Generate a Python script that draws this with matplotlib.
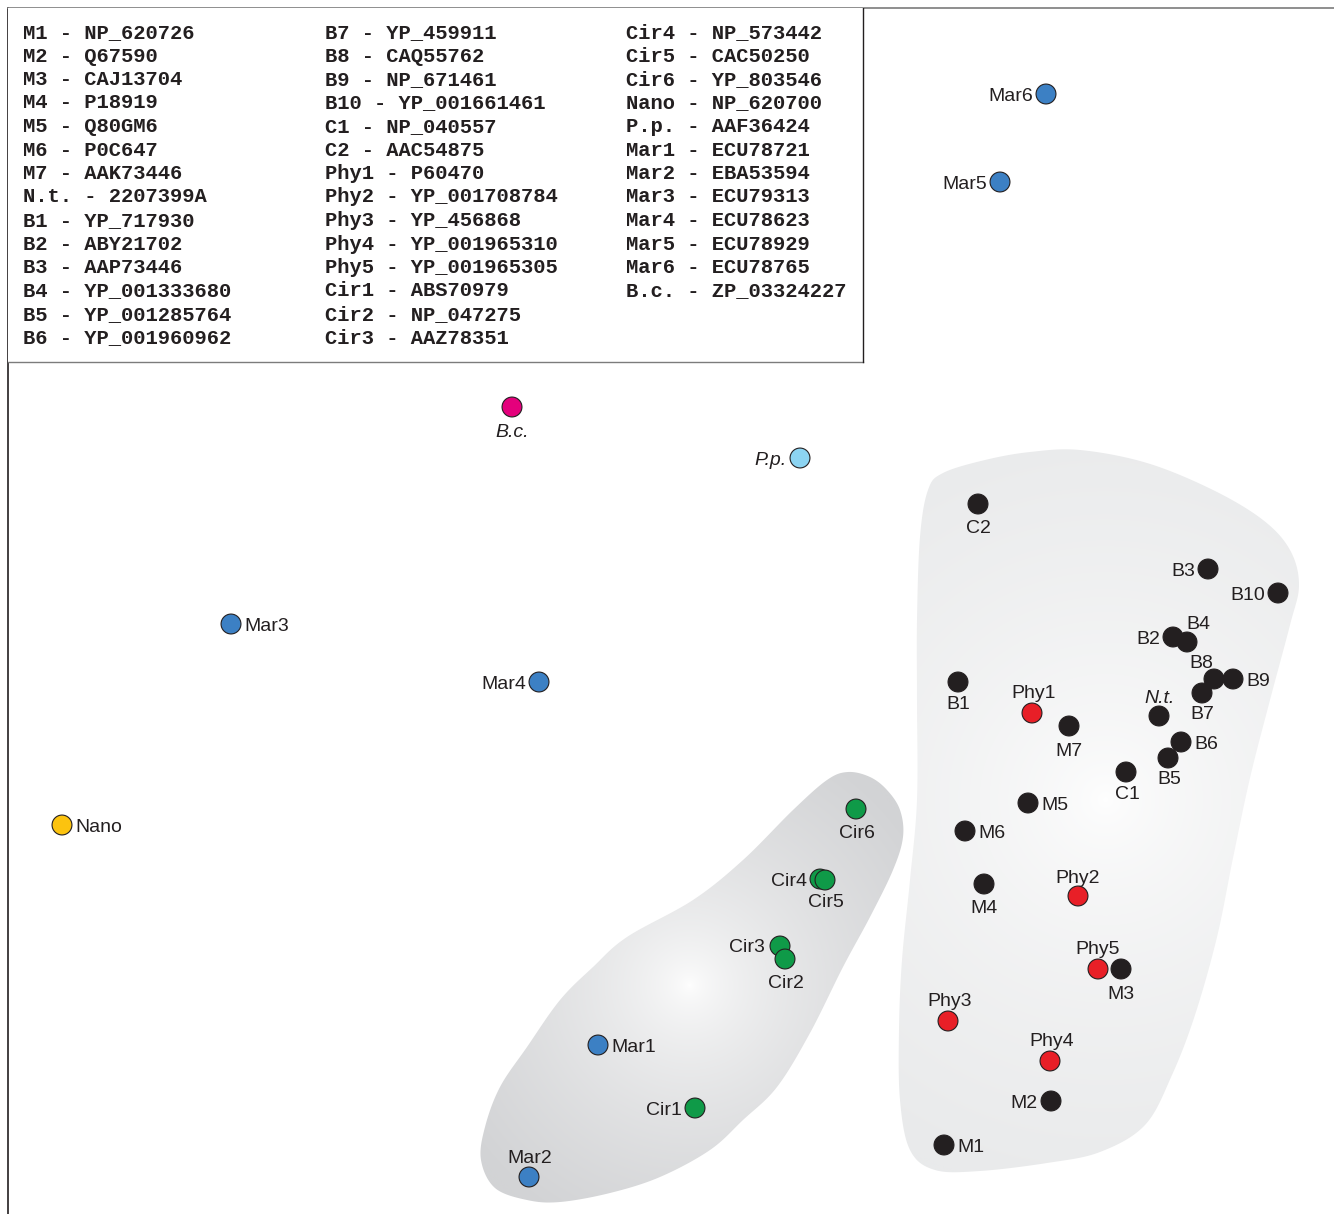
import numpy as np
import matplotlib
matplotlib.use("Agg")
import matplotlib.pyplot as plt
from matplotlib.path import Path
from matplotlib.patches import PathPatch, Rectangle
from matplotlib.colors import to_rgb

# ----------------------------------------------------------------------
# Data: point positions on the 2D map (screen-like units, y downwards)
# ----------------------------------------------------------------------
names = ["Mar6", "Mar5", "B.c.", "P.p.", "Mar3", "Mar4", "Nano",
         "C2", "B3", "B10", "B2", "B4", "B8", "B9", "B7", "B1", "Phy1",
         "M7", "N.t.", "B6", "B5", "C1", "M5", "M6", "M4", "Phy2", "Phy5",
         "M3", "Phy3", "Phy4", "M2", "M1",
         "Cir6", "Cir4", "Cir5", "Cir3", "Cir2", "Mar1", "Cir1", "Mar2"]
x = [1046, 1000, 512, 800, 231, 539, 62,
     978, 1208, 1278, 1173, 1187, 1214, 1233, 1202, 958, 1032,
     1069, 1159, 1181, 1168, 1126, 1028, 965, 984, 1078, 1098,
     1121, 948, 1050, 1051, 944,
     856, 820, 825, 780, 785, 598, 695, 529]
y = [94, 182, 407, 458, 624, 682, 825,
     504, 569, 593, 637, 642, 679, 679, 693, 682, 713,
     726, 716, 742, 758, 772, 803, 831, 884, 896, 969,
     969, 1021, 1061, 1101, 1145,
     809, 879, 880, 946, 959, 1045, 1108, 1177]
groups = ["Mar", "Mar", "Bc", "Pp", "Mar", "Mar", "Nano",
          "C", "B", "B", "B", "B", "B", "B", "B", "B", "Phy",
          "M", "Nt", "B", "B", "C", "M", "M", "M", "Phy", "Phy",
          "M", "Phy", "Phy", "M", "M",
          "Cir", "Cir", "Cir", "Cir", "Cir", "Mar", "Cir", "Mar"]

# accession table (three columns)
col1 = ["M1 - NP_620726", "M2 - Q67590", "M3 - CAJ13704", "M4 - P18919",
        "M5 - Q80GM6", "M6 - P0C647", "M7 - AAK73446", "N.t. - 2207399A",
        "B1 - YP_717930", "B2 - ABY21702", "B3 - AAP73446",
        "B4 - YP_001333680", "B5 - YP_001285764", "B6 - YP_001960962"]
col2 = ["B7 - YP_459911", "B8 - CAQ55762", "B9 - NP_671461",
        "B10 - YP_001661461", "C1 - NP_040557", "C2 - AAC54875",
        "Phy1 - P60470", "Phy2 - YP_001708784", "Phy3 - YP_456868",
        "Phy4 - YP_001965310", "Phy5 - YP_001965305", "Cir1 - ABS70979",
        "Cir2 - NP_047275", "Cir3 - AAZ78351"]
col3 = ["Cir4 - NP_573442", "Cir5 - CAC50250", "Cir6 - YP_803546",
        "Nano - NP_620700", "P.p. - AAF36424", "Mar1 - ECU78721",
        "Mar2 - EBA53594", "Mar3 - ECU79313", "Mar4 - ECU78623",
        "Mar5 - ECU78929", "Mar6 - ECU78765", "B.c. - ZP_03324227"]

# ----------------------------------------------------------------------
# Styling
# ----------------------------------------------------------------------
INK = "#231f20"
group_color = {
    "M": INK, "B": INK, "C": INK, "Nt": INK,
    "Phy": "#e81f27", "Cir": "#0f9a48", "Mar": "#3c80c4",
    "Nano": "#fcc30f", "Pp": "#8cd4f2", "Bc": "#e4007c",
}
italic_names = {"B.c.", "P.p.", "N.t."}

# label placement: "l"/"r" beside the dot, or (dx, dy) pixel offset
# of the label's cap-height centre from the dot
L, R = "l", "r"
label_side = {
    "Mar6": L, "Mar5": L, "B.c.": (0, 23), "P.p.": L, "Mar3": R, "Mar4": L,
    "Nano": R, "C2": (0, 22), "B3": L, "B10": L, "B2": L, "B4": (11, -20),
    "B8": (-13, -18), "B9": R, "B7": (0, 19), "B1": (0, 20), "Phy1": (2, -22),
    "M7": (0, 23), "N.t.": (1, -20), "B6": R, "B5": (1, 19), "C1": (1, 20),
    "M5": R, "M6": R, "M4": (0, 22), "Phy2": (0, -20), "Phy5": (0, -22),
    "M3": (0, 23), "Phy3": (2, -22), "Phy4": (2, -22), "M2": L, "M1": R,
    "Cir6": (1, 22), "Cir4": L, "Cir5": (1, 20), "Cir3": (-15, -1),
    "Cir2": (1, 22), "Mar1": R, "Cir1": L, "Mar2": (1, -21),
}

# shaded cluster outlines
left_blob = [(848, 772), (870, 777), (887, 790), (900, 810), (903, 837),
             (893, 870), (870, 917), (843, 967), (810, 1033), (777, 1087),
             (743, 1120), (710, 1150), (660, 1177), (610, 1193), (560, 1202),
             (527, 1200), (495, 1188), (481, 1160), (485, 1127), (500, 1087),
             (527, 1047), (560, 1000), (593, 967), (627, 937), (693, 900),
             (743, 860), (793, 810), (827, 780)]
right_blob = [(943, 473), (985, 460), (1030, 452), (1080, 450), (1147, 463),
              (1213, 490), (1263, 520), (1290, 550), (1299, 585), (1290, 625),
              (1270, 700), (1250, 778), (1233, 858), (1217, 937), (1195, 1015),
              (1172, 1075), (1145, 1125), (1100, 1152), (1047, 1163),
              (980, 1171), (935, 1170), (910, 1150), (900, 1100), (899, 1030),
              (902, 960), (910, 880), (917, 800), (917, 700), (917, 620),
              (920, 537), (928, 490)]


def smooth_closed(pts, n=24):
    """Closed Catmull-Rom curve through the outline points."""
    P = np.asarray(pts, float)
    N = len(P)
    t = np.linspace(0, 1, n, endpoint=False)[:, None]
    out = []
    for i in range(N):
        p0, p1, p2, p3 = P[i - 1], P[i], P[(i + 1) % N], P[(i + 2) % N]
        out.append(0.5 * (2 * p1 + (-p0 + p2) * t
                          + (2 * p0 - 5 * p1 + 4 * p2 - p3) * t ** 2
                          + (-p0 + 3 * p1 - 3 * p2 + p3) * t ** 3))
    out = np.vstack(out)
    return np.vstack([out, out[:1]])


def shaded_blob(ax, outline, center, radius, edge_color):
    verts = smooth_closed(outline)
    patch = PathPatch(Path(verts, closed=True), facecolor="none",
                      edgecolor="none", zorder=0)
    ax.add_patch(patch)
    x0, y0 = verts.min(axis=0) - 2
    x1, y1 = verts.max(axis=0) + 2
    gx, gy = np.meshgrid(np.linspace(x0, x1, 300), np.linspace(y0, y1, 300))
    r = np.clip(np.hypot(gx - center[0], gy - center[1]) / radius, 0, 1)
    t = r ** 0.6
    c = np.array(to_rgb(edge_color))
    img = (1 - t)[..., None] * np.ones(3) + t[..., None] * c
    im = ax.imshow(img, extent=(x0, x1, y1, y0), origin="upper",
                   aspect="auto", interpolation="bilinear", zorder=0)
    im.set_clip_path(patch)


# ----------------------------------------------------------------------
# Figure
# ----------------------------------------------------------------------
W, H = 1334, 1214
fig = plt.figure(figsize=(W / 100, H / 100), dpi=100)
ax = fig.add_axes([8 / W, 0, (W - 8) / W, (H - 8) / H])

shaded_blob(ax, left_blob, (690, 985), 270, "#d2d3d5")
shaded_blob(ax, right_blob, (1105, 800), 400, "#e9eaeb")

colors = [group_color[g] for g in groups]
ax.scatter(x, y, s=205, c=colors, edgecolors=INK, linewidths=0.8, zorder=3)

label_font = dict(family="Liberation Sans", size=14, color=INK)
CAP = 7.3  # half cap height in pixels
for name, px, py in zip(names, x, y):
    side = label_side[name]
    style = "italic" if name in italic_names else "normal"
    if side == L:
        dx, dy, ha = -13, 0, "right"
    elif side == R:
        dx, dy, ha = 13, 0, "left"
    else:
        dx, dy = side
        ha = "right" if name == "Cir3" else "center"
    ax.annotate(name, (px, py), xytext=(dx, -(dy + CAP)),
                textcoords="offset pixels", ha=ha, va="baseline",
                style=style, zorder=4, **label_font)

# accession table box
ax.add_patch(Rectangle((8, 8), 855, 354, facecolor="white",
                       edgecolor="none", zorder=5))
ax.plot([8, 863], [362, 362], color="#7c7c7c", lw=1.0, zorder=6)
ax.plot([863, 863], [8, 362], color=INK, lw=1.0, zorder=6)

table_font = dict(family="Liberation Mono", weight="bold", size=14.8,
                  color=INK)
for col, cx in zip((col1, col2, col3), (23, 325, 626)):
    for i, entry in enumerate(col):
        ax.text(cx, 38 + 23.5 * i, entry, ha="left", va="baseline",
                zorder=6, **table_font)

ax.set_xlim(8, W)
ax.set_ylim(H, 8)
ax.set_xticks([])
ax.set_yticks([])
for side in ("right", "bottom"):
    ax.spines[side].set_visible(False)
ax.spines["top"].set_color("#7c7c7c")
ax.spines["top"].set_linewidth(1.2)
ax.spines["left"].set_color(INK)
ax.spines["left"].set_linewidth(1.2)

fig.savefig("out.png", dpi=100)
